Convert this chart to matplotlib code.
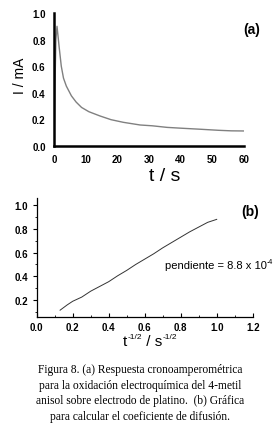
import matplotlib
matplotlib.use("Agg")
import matplotlib.pyplot as plt
from matplotlib.ticker import MultipleLocator

# Panel (a): chronoamperometric transient
t_s = [0.0, 0.3, 0.6, 0.95, 1.3, 1.6, 2.3, 3.0, 3.9, 5.5, 7.0, 8.7, 11.0, 14.5, 18.0,
       21.9, 27.2, 31.0, 35.7, 40.0, 46.2, 52.0, 56.0, 60.0]
i_mA = [0.0, 0.45, 0.8, 0.90, 0.82, 0.75, 0.60, 0.51, 0.45, 0.377, 0.33, 0.29, 0.258,
        0.226, 0.198, 0.178, 0.158, 0.152, 0.140, 0.134, 0.126, 0.118, 0.114, 0.113]

# Panel (b): I vs t^-1/2
t_inv_sqrt = [0.13, 0.17, 0.20, 0.25, 0.30, 0.35, 0.40, 0.45, 0.50, 0.55, 0.60, 0.65,
              0.70, 0.75, 0.80, 0.85, 0.90, 0.95, 1.00]
i_b = [0.115, 0.160, 0.190, 0.225, 0.275, 0.315, 0.355, 0.405, 0.450, 0.500, 0.545,
       0.590, 0.640, 0.685, 0.730, 0.775, 0.815, 0.855, 0.880]

caption_lines = [
    "Figura 8. (a) Respuesta cronoamperométrica",
    "para la oxidación electroquímica del 4-metil",
    "anisol sobre electrodo de platino.  (b) Gráfica",
    "para calcular el coeficiente de difusión.",
]

W, H = 280, 427
fig = plt.figure(figsize=(W / 100, H / 100), dpi=100)
sans = ["Liberation Sans", "DejaVu Sans"]

# ---- Panel (a)
ax1 = fig.add_axes([54 / W, 1 - 147 / H, (244 - 54) / W, (147 - 14) / H])
ax1.plot(t_s, i_mA, color="#808080", lw=1.0)
ax1.set_xlim(0, 60)
ax1.set_ylim(0, 1.0)
ax1.set_xticks([0, 10, 20, 30, 40, 50, 60])
ax1.set_yticks([0.0, 0.2, 0.4, 0.6, 0.8, 1.0])
ax1.set_yticklabels(["0.0", "0.2", "0.4", "0.6", "0.8", "1.0"])
for s in ["top", "right"]:
    ax1.spines[s].set_visible(False)
for s in ["left", "bottom"]:
    ax1.spines[s].set_linewidth(1.8)
ax1.tick_params(length=0, pad=6, labelsize=7)
for lab in ax1.get_xticklabels() + ax1.get_yticklabels():
    lab.set_fontweight("bold")
    lab.set_family(sans)
fig.text(20 / W, 1 - 76 / H, "I / mA", rotation=90, ha="center", va="center",
         fontsize=10, family=sans)
fig.text(165 / W, 1 - 177 / H, "t / s", ha="center", va="center",
         fontsize=14, family=sans)
fig.text(252 / W, 1 - 30 / H, "(a)", ha="center", va="center",
         fontsize=10, fontweight="bold", family=sans)

# ---- Panel (b)
ax2 = fig.add_axes([36.7 / W, 1 - 317.7 / H, (252.7 - 36.7) / W, (317.7 - 199) / H])
ax2.plot(t_inv_sqrt, i_b, color="#333333", lw=0.7)
ax2.set_xlim(0, 1.2)
ax2.set_ylim(0.06, 1.06)
ax2.set_xticks([0.0, 0.2, 0.4, 0.6, 0.8, 1.0, 1.2])
ax2.set_xticklabels(["0.0", "0.2", "0.4", "0.6", "0.8", "1.0", "1.2"])
ax2.set_yticks([0.2, 0.4, 0.6, 0.8, 1.0])
ax2.set_yticklabels(["0.2", "0.4", "0.6", "0.8", "1.0"])
ax2.xaxis.set_minor_locator(MultipleLocator(0.1))
ax2.yaxis.set_minor_locator(MultipleLocator(0.1))
for s in ["top", "right"]:
    ax2.spines[s].set_visible(False)
for s in ["left", "bottom"]:
    ax2.spines[s].set_linewidth(0.9)
ax2.tick_params(axis="y", which="major", direction="out", length=3, width=0.8, pad=3, labelsize=7)
ax2.tick_params(axis="y", which="minor", direction="out", length=1.5, width=0.6)
ax2.tick_params(axis="x", which="major", direction="in", length=3, width=0.8, pad=4, labelsize=7)
ax2.tick_params(axis="x", which="minor", direction="in", length=1.5, width=0.6)
for lab in ax2.get_xticklabels() + ax2.get_yticklabels():
    lab.set_fontweight("bold")
    lab.set_family(sans)
fig.text(250 / W, 1 - 212 / H, "(b)", ha="center", va="center",
         fontsize=10, fontweight="bold", family=sans)

# "pendiente = 8.8 x 10^-4" built from pieces
renderer = fig.canvas.get_renderer()
def chain(pieces, x0, base_y):
    x = x0
    for txt, size, dy in pieces:
        t = fig.text(x / W, 1 - (base_y - dy) / H, txt, ha="left", va="baseline",
                     fontsize=size, family=sans)
        bb = t.get_window_extent(renderer)
        x += bb.width
    return x

chain([("pendiente = 8.8 x 10", 8, 0), ("-4", 5, 5)], 165, 269)

# x-label for panel (b): t^-1/2 / s^-1/2
lbl = [("t", 11, 0), ("-1/2", 6, 7), (" / s", 11, 0), ("-1/2", 6, 7)]
total = 0
for txt, size, dy in lbl:
    tt = fig.text(0, 0, txt, fontsize=size, family=sans)
    total += tt.get_window_extent(renderer).width
    tt.remove()
chain(lbl, 150 - total / 2, 346)

# ---- Caption
y0 = 370
for k, line in enumerate(caption_lines):
    fig.text(140 / W, 1 - (y0 + k * 15.7) / H, line, ha="center", va="center",
             fontsize=8.3, family=["Liberation Serif", "DejaVu Serif"])

fig.savefig("out.png", dpi=100)
